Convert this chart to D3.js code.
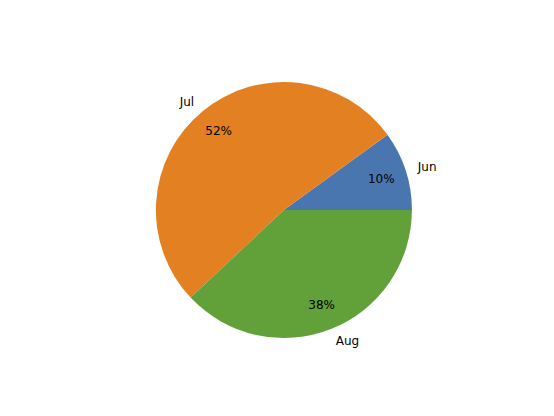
<!DOCTYPE html>
<html>
<head>
<meta charset="utf-8">
<script src="https://cdn.jsdelivr.net/npm/d3@7"></script>
<style>
  body { margin: 0; background: #fff; }
  text { font-family: "DejaVu Sans", sans-serif; font-size: 12px; fill: #000; }
</style>
</head>
<body>
<div id="chart"></div>
<script>
const months = ['Jun', 'Jul', 'Aug'];
const shares = [10, 52, 38];
const colors = ['#4a76b0', '#e38022', '#62a03a'];

const width = 554;
const height = 416;
const cx = 283.9;
const cy = 210;
const radius = 128;

const svg = d3.select('#chart').append('svg')
  .attr('width', width)
  .attr('height', height);

const g = svg.append('g').attr('transform', `translate(${cx},${cy})`);

// matplotlib-style: start at east, go counter-clockwise
const total = d3.sum(shares);
const angle = d3.scaleLinear().domain([0, total]).range([0, 2 * Math.PI]);
let acc = 0;
const slices = shares.map((v, i) => {
  const s = { month: months[i], value: v, color: colors[i], a0: angle(acc), a1: angle(acc + v) };
  acc += v;
  return s;
});

// d3.arc measures from 12 o'clock clockwise; convert
const toD3 = a => Math.PI / 2 - a;
const arc = d3.arc().innerRadius(0).outerRadius(radius);

g.selectAll('path.slice').data(slices).enter().append('path')
  .attr('class', 'slice')
  .attr('d', d => arc({ startAngle: toD3(d.a1), endAngle: toD3(d.a0) }))
  .attr('fill', d => d.color);

const mid = d => (d.a0 + d.a1) / 2;

g.selectAll('text.label').data(slices).enter().append('text')
  .attr('class', 'label')
  .attr('x', d => 1.1 * radius * Math.cos(mid(d)))
  .attr('y', d => -1.1 * radius * Math.sin(mid(d)))
  .attr('dy', '0.35em')
  .attr('text-anchor', d => Math.cos(mid(d)) > 0 ? 'start' : 'end')
  .text(d => d.month);

g.selectAll('text.pct').data(slices).enter().append('text')
  .attr('class', 'pct')
  .attr('x', d => 0.8 * radius * Math.cos(mid(d)))
  .attr('y', d => -0.8 * radius * Math.sin(mid(d)))
  .attr('dy', '0.35em')
  .attr('text-anchor', 'middle')
  .text(d => `${d3.format('.0f')(d.value / total * 100)}%`);
</script>
</body>
</html>
